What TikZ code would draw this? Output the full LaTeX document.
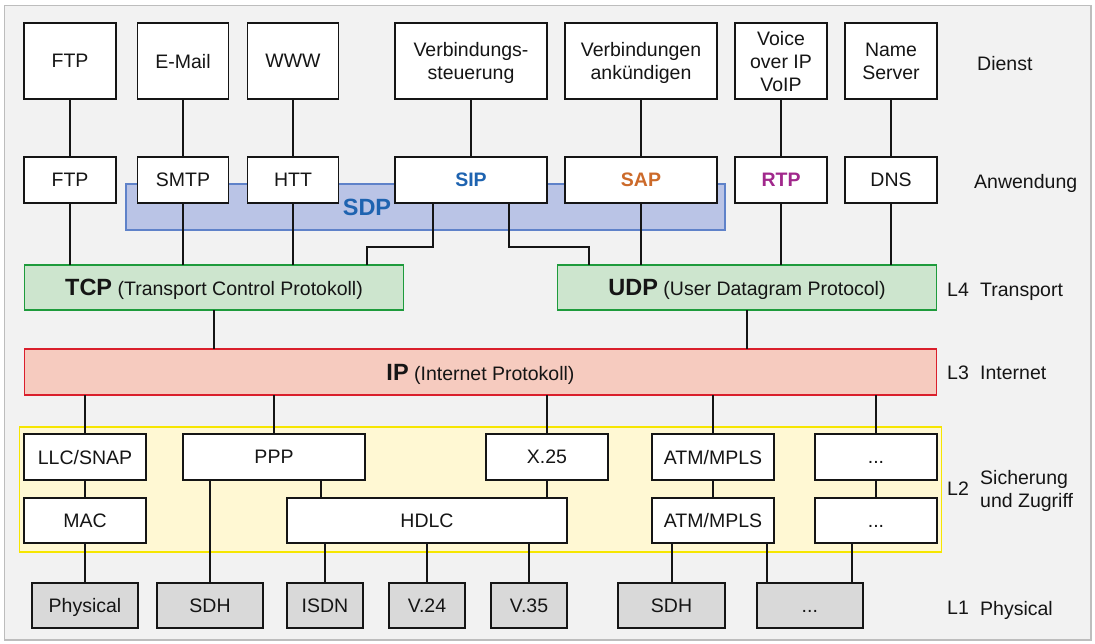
\documentclass[tikz,border=0pt]{standalone}
\usepackage{fontspec}
\setmainfont{Liberation Sans}
\definecolor{bgfill}{HTML}{F2F2F2}
\definecolor{frame}{HTML}{BDBDBD}
\definecolor{ink}{HTML}{151515}
\definecolor{sdpfill}{HTML}{BAC4E6}
\definecolor{sdpline}{HTML}{5F82C9}
\definecolor{sdptext}{HTML}{1E63B0}
\definecolor{sapcol}{HTML}{CC6A2A}
\definecolor{rtpcol}{HTML}{A1288C}
\definecolor{l4fill}{HTML}{CDE5CE}
\definecolor{l4line}{HTML}{1E9B3C}
\definecolor{l3fill}{HTML}{F6CBBF}
\definecolor{l3line}{HTML}{DA1F2C}
\definecolor{l2fill}{HTML}{FFF8D3}
\definecolor{l2line}{HTML}{F6E600}
\definecolor{l1fill}{HTML}{D9D9D9}
\newcommand{\capdots}{\vphantom{T}...}
\begin{document}
\begin{tikzpicture}[x=1pt,y=-1pt,
  txt/.style={font=\fontsize{19.5}{23}\selectfont,text=ink,text depth=0pt},
  box/.style={txt,draw=ink,line width=1.8pt,fill=white,inner sep=0pt,outer sep=0pt,align=center},
  physbox/.style={box,fill=l1fill},
  bandbox/.style={line width=1.7pt,inner sep=0pt,outer sep=0pt},
  link/.style={draw=ink,line width=1.8pt},
  layer/.style={txt,anchor=west,inner sep=0pt,align=left},
  big/.style={font=\fontsize{23.5}{26}\selectfont\bfseries}]
\path[use as bounding box] (0,0) rectangle (1095,643);
% frame
\draw[frame,fill=bgfill,line width=1.5pt] (4.5,5.5) rectangle (1091,640);

% SDP band behind the application row
\node[bandbox,draw=sdpline,fill=sdpfill,minimum width=599pt,minimum height=46pt] (sdp) at (425.5,207) {};
\node[big,text=sdptext] (sdplabel) at (367,207) {SDP};

% L2 band
\node[bandbox,draw=l2line,fill=l2fill,minimum width=922pt,minimum height=125pt] (l2band) at (480.4,489.5) {};

% services
\node[box,minimum width=91.5pt,minimum height=76pt] (d1) at (70,61) {FTP};
\node[box,minimum width=91pt,minimum height=76pt] (d2) at (183,61) {E-Mail};
\node[box,minimum width=91pt,minimum height=76pt] (d3) at (293,61) {WWW};
\node[box,minimum width=152pt,minimum height=76pt] (d4) at (471,61) {Verbindungs-\\steuerung};
\node[box,minimum width=152pt,minimum height=76pt] (d5) at (641,61) {Verbindungen\\ankündigen};
\node[box,minimum width=91.5pt,minimum height=76pt] (d6) at (781,61) {Voice\\over IP\\VoIP};
\node[box,minimum width=92pt,minimum height=76pt] (d7) at (891,61) {Name\\Server};

% application protocols
\node[box,minimum width=91.5pt,minimum height=46pt] (a1) at (70,180) {FTP};
\node[box,minimum width=91pt,minimum height=46pt] (a2) at (183,180) {SMTP};
\node[box,minimum width=91pt,minimum height=46pt] (a3) at (293,180) {HTT};
\node[box,minimum width=152pt,minimum height=46pt] (a4) at (471,180) {\textcolor{sdptext}{\bfseries SIP}};
\node[box,minimum width=152pt,minimum height=46pt] (a5) at (641,180) {\textcolor{sapcol}{\bfseries SAP}};
\node[box,minimum width=91.5pt,minimum height=46pt] (a6) at (781,180) {\textcolor{rtpcol}{\bfseries RTP}};
\node[box,minimum width=92pt,minimum height=46pt] (a7) at (891,180) {DNS};

% transport
\node[box,draw=l4line,fill=l4fill,minimum width=379pt,minimum height=45pt] (tcp) at (214,287.5)
  {{\fontsize{23.5}{26}\selectfont\bfseries TCP} (Transport Control Protokoll)};
\node[box,draw=l4line,fill=l4fill,minimum width=379pt,minimum height=45pt] (udp) at (747,287.5)
  {{\fontsize{23.5}{26}\selectfont\bfseries UDP} (User Datagram Protocol)};

% internet
\node[box,draw=l3line,fill=l3fill,minimum width=912pt,minimum height=46pt] (ip) at (480.5,372)
  {{\fontsize{23.5}{26}\selectfont\bfseries IP} (Internet Protokoll)};

% L2 protocols
\node[box,minimum width=121.5pt,minimum height=46pt] (llc) at (85,457) {LLC/SNAP};
\node[box,minimum width=181.5pt,minimum height=46pt] (ppp) at (274,457) {PPP};
\node[box,minimum width=121.5pt,minimum height=46pt] (x25) at (547,457) {X.25};
\node[box,minimum width=122pt,minimum height=46pt] (atma) at (713,457) {ATM/MPLS};
\node[box,minimum width=121.6pt,minimum height=46pt] (dotsa) at (876,457) {\capdots};
\node[box,minimum width=121.5pt,minimum height=45pt] (mac) at (85,520.5) {MAC};
\node[box,minimum width=280pt,minimum height=45pt] (hdlc) at (427,520.5) {HDLC};
\node[box,minimum width=122pt,minimum height=45pt] (atmb) at (713,520.5) {ATM/MPLS};
\node[box,minimum width=121.6pt,minimum height=45pt] (dotsb) at (876,520.5) {\capdots};

% physical
\node[physbox,minimum width=106.4pt,minimum height=45pt] (phys) at (85,605.5) {Physical};
\node[physbox,minimum width=106.5pt,minimum height=45pt] (sdha) at (210,605.5) {SDH};
\node[physbox,minimum width=76pt,minimum height=45pt] (isdn) at (325,605.5) {ISDN};
\node[physbox,minimum width=76pt,minimum height=45pt] (v24) at (427,605.5) {V.24};
\node[physbox,minimum width=76pt,minimum height=45pt] (v35) at (529,605.5) {V.35};
\node[physbox,minimum width=107pt,minimum height=45pt] (sdhb) at (671.5,605.5) {SDH};
\node[physbox,minimum width=106.4pt,minimum height=45pt] (dotsp) at (809.8,605.5) {\capdots};

% layer labels
\node[layer] (ldienst) at (977,63) {Dienst};
\node[layer] (lanw) at (974,181) {Anwendung};
\node[layer] (l4) at (947,290) {L4};
\node[layer] (l4t) at (980,290) {Transport};
\node[layer] (l3) at (947,373) {L3};
\node[layer] (l3t) at (980,373) {Internet};
\node[layer] (l2) at (947,489) {L2};
\node[layer] (l2t) at (980,489) {Sicherung\\und Zugriff};
\node[layer] (l1) at (947,608) {L1};
\node[layer] (l1t) at (980,608) {Physical};

% bend points and off-centre taps
\coordinate (sipl) at (433,247);
\coordinate (sipr) at (509,247);
\coordinate (tcpin) at (367,265);
\coordinate (udpin) at (589,265);
\coordinate (ppptap) at (321,0);
\coordinate (sdhtap) at (672,0);
\coordinate (atmtap) at (767,0);
\coordinate (dotstap) at (852,0);

% service -> application
\foreach \i in {1,...,7} \draw[link] (d\i.south) -- (a\i.north);

% application -> transport
\draw[link] (a1.south) -- (a1.south |- tcp.north);
\draw[link] (a2.south) -- (a2.south |- tcp.north);
\draw[link] (a3.south) -- (a3.south |- tcp.north);
\draw[link] (a4.south -| sipl) -- (sipl) -| (tcpin);
\draw[link] (a4.south -| sipr) -- (sipr) -| (udpin);
\draw[link] (a5.south) -- (a5.south |- udp.north);
\draw[link] (a6.south) -- (a6.south |- udp.north);
\draw[link] (a7.south) -- (a7.south |- udp.north);

% transport -> internet
\draw[link] (tcp.south) -- (tcp.south |- ip.north);
\draw[link] (udp.south) -- (udp.south |- ip.north);

% internet -> L2
\foreach \n in {llc,ppp,x25,atma,dotsa} \draw[link] (\n.north |- ip.south) -- (\n.north);

% inside L2
\draw[link] (llc.south) -- (mac.north);
\draw[link] (ppp.south -| ppptap) -- (hdlc.north -| ppptap);
\draw[link] (x25.south) -- (x25.south |- hdlc.north);
\draw[link] (atma.south) -- (atmb.north);
\draw[link] (dotsa.south) -- (dotsb.north);

% L2 -> physical
\draw[link] (mac.south) -- (mac.south |- phys.north);
\draw[link] (sdha.north |- ppp.south) -- (sdha.north);
\draw[link] (isdn.north |- hdlc.south) -- (isdn.north);
\draw[link] (v24.north |- hdlc.south) -- (v24.north);
\draw[link] (v35.north |- hdlc.south) -- (v35.north);
\draw[link] (atmb.south -| sdhtap) -- (sdhb.north -| sdhtap);
\draw[link] (atmb.south -| atmtap) -- (dotsp.north -| atmtap);
\draw[link] (dotsb.south -| dotstap) -- (dotsp.north -| dotstap);
\end{tikzpicture}
\end{document}
